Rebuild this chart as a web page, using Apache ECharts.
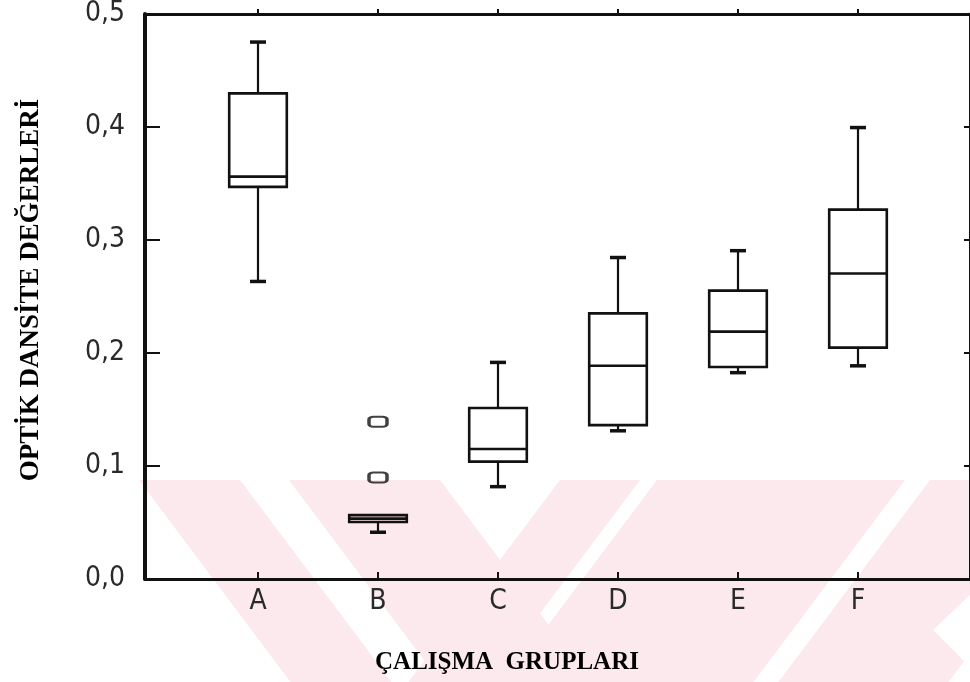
<!DOCTYPE html>
<html>
<head>
<meta charset="utf-8">
<script src="https://cdn.jsdelivr.net/npm/echarts@6/dist/echarts.min.js"></script>
<style>
  html, body { margin: 0; padding: 0; background: #fff; }
  #chart { width: 970px; height: 682px; }
</style>
</head>
<body>
<div id="chart"></div>
<script>
// gruplar ve kutu grafik değerleri
const groups = ['A', 'B', 'C', 'D', 'E', 'F']
const whiskerLow = [0.261, 0.041, 0.081, 0.130, 0.181, 0.187]
const q1 = [0.344, 0.050, 0.103, 0.135, 0.186, 0.203]
const median = [0.353, 0.053, 0.114, 0.187, 0.217, 0.268]
const q3 = [0.426, 0.056, 0.150, 0.233, 0.253, 0.324]
const whiskerHigh = [0.471, 0.056, 0.190, 0.282, 0.288, 0.396]
const outlierGroups = ['B', 'B']
const outlierValues = [0.138, 0.089]
const yTicks = [0, 0.1, 0.2, 0.3, 0.4, 0.5]

const labelFont = '"Liberation Sans Narrow", "DejaVu Sans Condensed", sans-serif'
const titleFont = '"Liberation Serif", "DejaVu Serif", serif'
const ink = '#111'
const pink = '#fce9ed'

const boxData = groups.map((g, i) => [i, whiskerLow[i], q1[i], median[i], q3[i], whiskerHigh[i]])

function renderBox(params, api) {
  const idx = api.value(0)
  const xc = api.coord([idx, 0])[0]
  const half = api.size([1, 0])[0] * 0.24
  const cap = 8
  const yLow = api.coord([idx, api.value(1)])[1]
  const yQ1 = api.coord([idx, api.value(2)])[1]
  const yMed = api.coord([idx, api.value(3)])[1]
  const yQ3 = api.coord([idx, api.value(4)])[1]
  const yHigh = api.coord([idx, api.value(5)])[1]
  const line = (x1, y1, x2, y2, w) => ({
    type: 'line',
    shape: { x1, y1, x2, y2 },
    style: { stroke: ink, lineWidth: w, lineCap: 'butt' }
  })
  const children = [
    line(xc, yHigh, xc, yQ3, 2.2),
    line(xc, yQ1, xc, yLow, 2.2),
    {
      type: 'rect',
      shape: { x: xc - half, y: yQ3, width: half * 2, height: yQ1 - yQ3 },
      style: { fill: 'none', stroke: ink, lineWidth: 2.6 }
    },
    line(xc - half, yMed, xc + half, yMed, 2.6),
    line(xc - cap, yLow, xc + cap, yLow, 3.5)
  ]
  if (yHigh < yQ3 - 1) {
    children.push(line(xc - cap, yHigh, xc + cap, yHigh, 3.5))
  }
  return { type: 'group', children }
}

// filigran (arka plandaki pembe şeritler)
function band(topL, topR, slope) {
  const y0 = 480
  const y1 = 682
  const d = (y1 - y0) * slope
  return {
    type: 'polygon',
    z: -10,
    silent: true,
    shape: { points: [[topL, y0], [topR, y0], [topR + d, y1], [topL + d, y1]] },
    style: { fill: pink }
  }
}

const chart = echarts.init(document.getElementById('chart'))
chart.setOption({
  backgroundColor: '#fff',
  animation: false,
  graphic: [
    band(139, 240, 0.75),
    band(289, 440, 0.75),
    band(560, 640, -0.75),
    band(657, 905, -0.75),
    band(930, 1100, -0.75),
    {
      type: 'polygon',
      z: -9,
      silent: true,
      shape: { points: [[933, 630], [975, 590], [975, 672]] },
      style: { fill: '#fff' }
    },
    {
      type: 'text',
      x: 31,
      y: 290,
      rotation: Math.PI / 2,
      style: {
        text: 'OPTİK DANSİTE DEĞERLERİ',
        font: 'bold 27px ' + titleFont,
        fill: '#000',
        textAlign: 'center',
        textVerticalAlign: 'middle'
      }
    },
    {
      type: 'text',
      x: 507,
      y: 663,
      style: {
        text: 'ÇALIŞMA  GRUPLARI',
        font: 'bold 25px ' + titleFont,
        fill: '#000',
        textAlign: 'center',
        textVerticalAlign: 'middle'
      }
    }
  ],
  grid: [
    { left: 198, width: 720, top: 9, bottom: 103 },
    { left: 145, right: -3, top: 9, bottom: 103 }
  ],
  xAxis: [
    {
      type: 'category',
      gridIndex: 0,
      position: 'bottom',
      data: groups,
      axisLine: { show: false },
      axisTick: { show: true, inside: true, alignWithLabel: true, length: 7, lineStyle: { color: ink, width: 2 } },
      axisLabel: { margin: 9, color: '#2a2a2a', fontFamily: labelFont, fontSize: 28 },
      splitLine: { show: false }
    },
    {
      type: 'category',
      gridIndex: 0,
      position: 'top',
      data: groups,
      axisLine: { show: false },
      axisTick: { show: true, inside: true, alignWithLabel: true, length: 6, lineStyle: { color: ink, width: 2 } },
      axisLabel: { show: false },
      splitLine: { show: false }
    },
    {
      type: 'value',
      gridIndex: 1,
      position: 'bottom',
      min: 0,
      max: 1,
      axisLine: { show: true, onZero: false, lineStyle: { color: ink, width: 3 } },
      axisTick: { show: false },
      axisLabel: { show: false },
      splitLine: { show: false }
    },
    {
      type: 'value',
      gridIndex: 1,
      position: 'top',
      min: 0,
      max: 1,
      axisLine: { show: true, onZero: false, lineStyle: { color: ink, width: 3 } },
      axisTick: { show: false },
      axisLabel: { show: false },
      splitLine: { show: false }
    }
  ],
  yAxis: [
    {
      type: 'value',
      gridIndex: 0,
      min: yTicks[0],
      max: yTicks[yTicks.length - 1],
      interval: 0.1,
      show: false
    },
    {
      type: 'value',
      gridIndex: 1,
      position: 'left',
      min: yTicks[0],
      max: yTicks[yTicks.length - 1],
      interval: 0.1,
      axisLine: { show: true, onZero: false, lineStyle: { color: ink, width: 4 } },
      axisTick: { show: true, inside: true, length: 15, lineStyle: { color: ink, width: 2 } },
      axisLabel: {
        margin: 20,
        color: '#2a2a2a',
        fontFamily: labelFont,
        fontSize: 28,
        formatter: v => v.toFixed(1).replace('.', ',')
      },
      splitLine: { show: false }
    },
    {
      type: 'value',
      gridIndex: 1,
      position: 'right',
      min: yTicks[0],
      max: yTicks[yTicks.length - 1],
      interval: 0.1,
      axisLine: { show: true, onZero: false, lineStyle: { color: ink, width: 3 } },
      axisTick: { show: true, inside: true, length: 6, lineStyle: { color: ink, width: 2 } },
      axisLabel: { show: false },
      splitLine: { show: false }
    }
  ],
  series: [
    {
      name: 'boxes',
      type: 'custom',
      xAxisIndex: 0,
      yAxisIndex: 0,
      renderItem: renderBox,
      encode: { x: 0, y: [1, 2, 3, 4, 5] },
      data: boxData,
      z: 5
    },
    {
      name: 'outliers',
      type: 'scatter',
      xAxisIndex: 0,
      yAxisIndex: 0,
      symbol: 'roundRect',
      symbolSize: [18, 10],
      itemStyle: { color: 'rgba(255,255,255,0)', borderColor: ink, borderWidth: 2.6 },
      data: outlierGroups.map((g, i) => [g, outlierValues[i]]),
      z: 5
    }
  ]
})
</script>
</body>
</html>
